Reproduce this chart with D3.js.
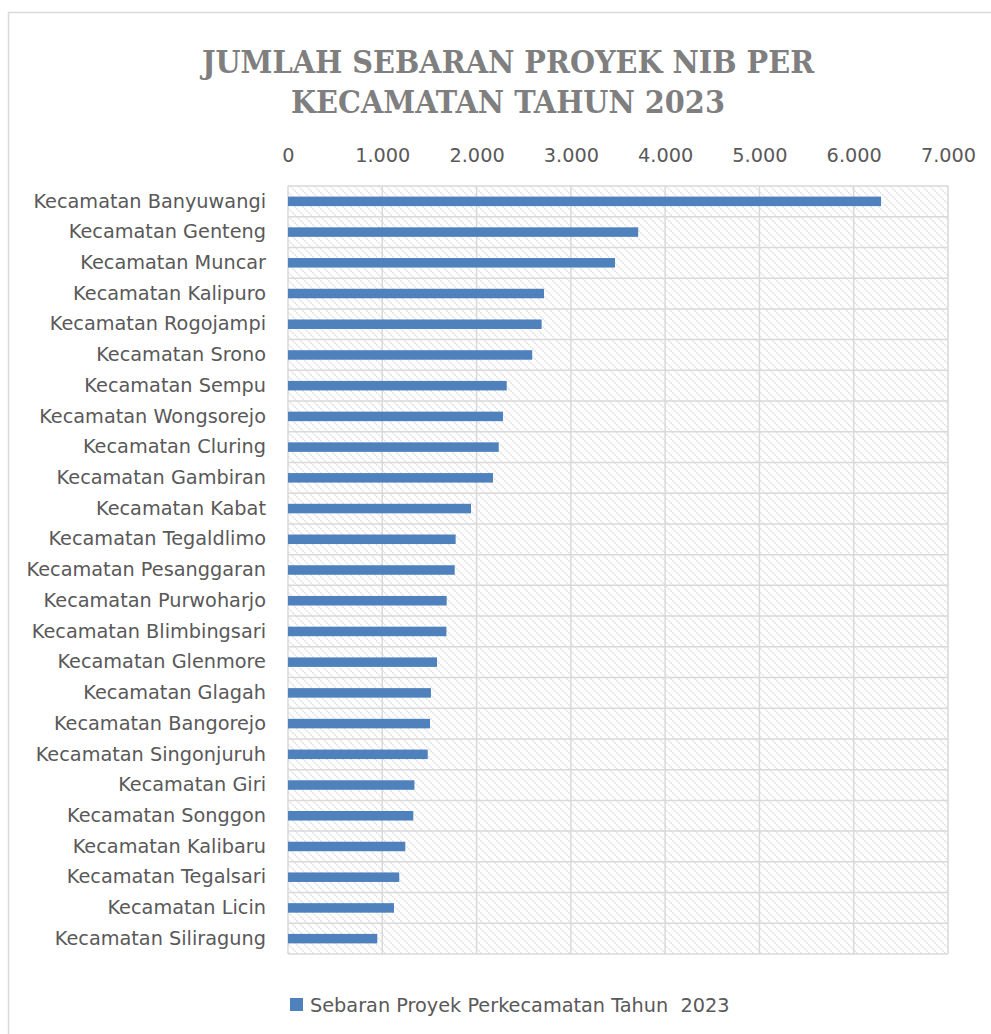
<!DOCTYPE html>
<html>
<head>
<meta charset="utf-8">
<script src="https://cdn.jsdelivr.net/npm/d3@7"></script>
<style>
  body { margin: 0; background: #fff; }
</style>
</head>
<body>
<svg id="chart" width="991" height="1034"></svg>
<script>
// data
const kecamatan = [
  "Kecamatan Banyuwangi", "Kecamatan Genteng", "Kecamatan Muncar", "Kecamatan Kalipuro",
  "Kecamatan Rogojampi", "Kecamatan Srono", "Kecamatan Sempu", "Kecamatan Wongsorejo",
  "Kecamatan Cluring", "Kecamatan Gambiran", "Kecamatan Kabat", "Kecamatan Tegaldlimo",
  "Kecamatan Pesanggaran", "Kecamatan Purwoharjo", "Kecamatan Blimbingsari", "Kecamatan Glenmore",
  "Kecamatan Glagah", "Kecamatan Bangorejo", "Kecamatan Singonjuruh", "Kecamatan Giri",
  "Kecamatan Songgon", "Kecamatan Kalibaru", "Kecamatan Tegalsari", "Kecamatan Licin",
  "Kecamatan Siliragung"
];
const jumlahProyek = [
  6290, 3714, 3468, 2715, 2690, 2590, 2320, 2280,
  2235, 2174, 1941, 1778, 1768, 1683, 1680, 1580,
  1516, 1506, 1482, 1341, 1329, 1244, 1180, 1124, 947
];
const xTicks = [0, 1000, 2000, 3000, 4000, 5000, 6000, 7000];
const titleLines = ["JUMLAH SEBARAN PROYEK NIB PER", "KECAMATAN TAHUN 2023"];
const legendLabel = "Sebaran Proyek Perkecamatan Tahun  2023";

const svg = d3.select("#chart");
const pLeft = 288, pRight = 948, pTop = 186, pBottom = 954;
const grid = "#d9d9d9", txt = "#595959", blue = "#4f81bd";
const labelFont = "'DejaVu Sans', sans-serif";
const labelSize = "19.3px";

// outer frame
svg.append("rect")
  .attr("x", 8.5).attr("y", 12.5)
  .attr("width", 990).attr("height", 1030)
  .attr("fill", "#fff").attr("stroke", grid).attr("stroke-width", 1.5);

// hatch fill of plot area
const pat = svg.append("defs").append("pattern")
  .attr("id", "hatch").attr("patternUnits", "userSpaceOnUse")
  .attr("width", 8).attr("height", 8);
pat.append("rect").attr("width", 8).attr("height", 8).attr("fill", "#fff");
pat.append("path")
  .attr("d", "M0,0 L8,8 M-4,4 L4,12 M4,-4 L12,4")
  .attr("stroke", "#e0e0e0").attr("stroke-width", 1.4)
  .attr("stroke-dasharray", "2,1");

const x = d3.scaleLinear([0, 7000], [pLeft, pRight]);
const y = d3.scaleBand(kecamatan, [pTop, pBottom]).paddingInner(0.69).paddingOuter(0.345);
const yGrid = d3.scaleBand(kecamatan, [pTop, pBottom]);

svg.append("rect")
  .attr("x", pLeft).attr("y", pTop)
  .attr("width", pRight - pLeft).attr("height", pBottom - pTop)
  .attr("fill", "url(#hatch)");

// vertical grid
svg.append("g").selectAll("line").data(xTicks).join("line")
  .attr("x1", d => x(d)).attr("x2", d => x(d))
  .attr("y1", pTop).attr("y2", pBottom)
  .attr("stroke", grid).attr("stroke-width", 1.5);

// horizontal grid at category boundaries
svg.append("g").selectAll("line").data(kecamatan.concat(["_end"])).join("line")
  .attr("x1", pLeft).attr("x2", pRight)
  .attr("y1", (d, i) => pTop + i * yGrid.step())
  .attr("y2", (d, i) => pTop + i * yGrid.step())
  .attr("stroke", grid).attr("stroke-width", 1.5);

// top axis labels
const xAxis = svg.append("g")
  .attr("transform", `translate(0,${pTop - 24})`)
  .call(d3.axisTop(x).tickValues(xTicks).tickSize(0).tickPadding(0)
    .tickFormat(d => d3.format(",")(d).replace(/,/g, ".")));
xAxis.select(".domain").remove();
xAxis.selectAll("text")
  .style("font-family", labelFont).style("font-size", labelSize)
  .attr("fill", txt);

// category labels
const yAxis = svg.append("g")
  .attr("transform", `translate(${pLeft - 22},0)`)
  .call(d3.axisLeft(y).tickSize(0).tickPadding(0));
yAxis.select(".domain").remove();
yAxis.selectAll("text")
  .style("font-family", labelFont).style("font-size", labelSize)
  .attr("fill", txt);

// bars
svg.append("g").selectAll("rect").data(jumlahProyek).join("rect")
  .attr("x", pLeft)
  .attr("y", (d, i) => y(kecamatan[i]))
  .attr("width", d => x(d) - pLeft)
  .attr("height", y.bandwidth())
  .attr("fill", blue);

// title
svg.append("g").selectAll("text").data(titleLines).join("text")
  .attr("x", 508).attr("y", (d, i) => 73 + i * 40)
  .attr("text-anchor", "middle")
  .style("font-family", "'DejaVu Serif', serif")
  .style("font-stretch", "condensed")
  .style("font-weight", "bold").style("font-size", "32px")
  .attr("fill", "#7f7f7f")
  .text(d => d);

// legend
svg.append("rect")
  .attr("x", 290).attr("y", 998).attr("width", 13).attr("height", 13)
  .attr("fill", blue);
svg.append("text")
  .attr("x", 310).attr("y", 1012)
  .style("font-family", labelFont).style("font-size", labelSize)
  .style("white-space", "pre")
  .attr("fill", txt)
  .text(legendLabel);
</script>
</body>
</html>
